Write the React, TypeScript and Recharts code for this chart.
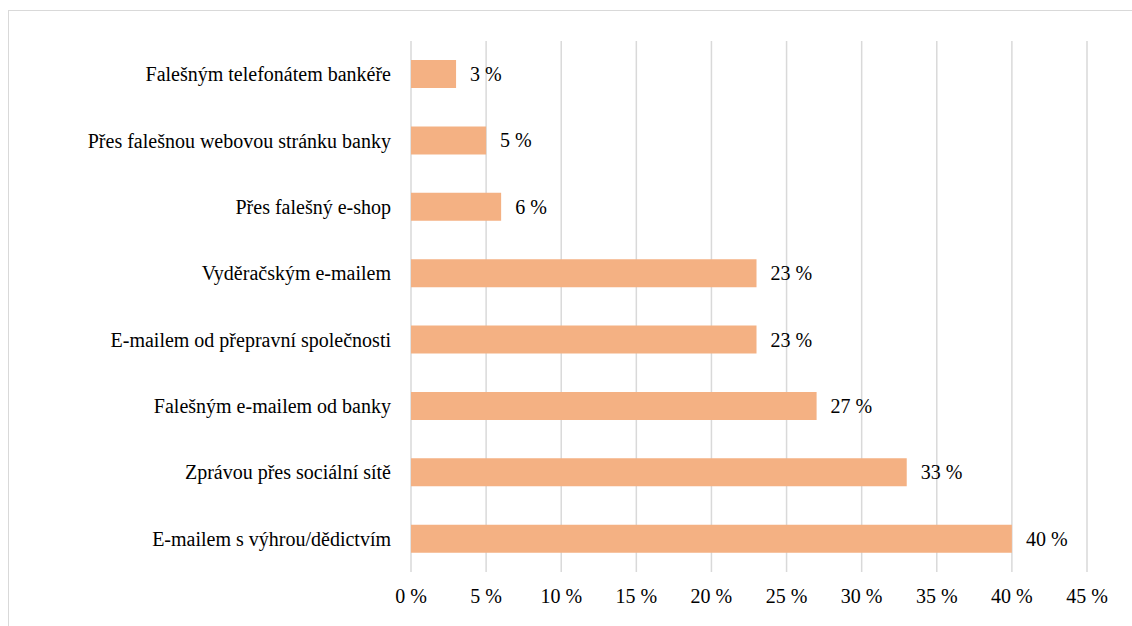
import React from "react";
import { BarChart, Bar, XAxis, YAxis, CartesianGrid, LabelList } from "recharts";

const categories = [
  "Falešným telefonátem bankéře",
  "Přes falešnou webovou stránku banky",
  "Přes falešný e-shop",
  "Vyděračským e-mailem",
  "E-mailem od přepravní společnosti",
  "Falešným e-mailem od banky",
  "Zprávou přes sociální sítě",
  "E-mailem s výhrou/dědictvím",
];
const values = [3, 5, 6, 23, 23, 27, 33, 40];
const xTicks = [0, 5, 10, 15, 20, 25, 30, 35, 40, 45];

const data = categories.map((name, i) => ({ name, value: values[i] }));

const FONT = "Liberation Serif, Times New Roman, DejaVu Serif, serif";

const YTick = (props: any) => {
  const { x, y, payload } = props;
  return (
    <text x={x} y={y} dy={7} textAnchor="end" fill="#000" fontSize={20} fontFamily={FONT} style={{ fontFamily: FONT }}>
      {payload.value}
    </text>
  );
};

const XTick = (props: any) => {
  const { x, y, payload } = props;
  return (
    <text x={x} y={y} dy={14} textAnchor="middle" fill="#000" fontSize={20} fontFamily={FONT} style={{ fontFamily: FONT }}>
      {`${payload.value} %`}
    </text>
  );
};

const ValueLabel = (props: any) => {
  const { x, y, width, height, value } = props;
  return (
    <text
      x={Number(x) + Number(width) + 14}
      y={Number(y) + Number(height) / 2}
      dy={7}
      textAnchor="start"
      fill="#000"
      fontSize={20}
      fontFamily={FONT}
      style={{ fontFamily: FONT }}
    >
      {`${value} %`}
    </text>
  );
};

export default function App() {
  return (
    <div
      style={{
        position: "absolute",
        left: 8,
        top: 10,
        width: 1140,
        height: 640,
        border: "1px solid #d9d9d9",
        boxSizing: "border-box",
        background: "#fff",
        fontFamily: FONT,
      }}
    >
      <BarChart
        width={1123}
        height={603}
        data={data}
        layout="vertical"
        margin={{ top: 30, right: 45, bottom: 4, left: 0 }}
      >
        <CartesianGrid horizontal={false} stroke="#d9d9d9" strokeWidth={1.5} />
        <XAxis
          type="number"
          domain={[0, 45]}
          ticks={xTicks}
          interval={0}
          axisLine={false}
          tickLine={false}
          tickSize={0}
          tickMargin={17}
          height={38}
          tick={<XTick />}
        />
        <YAxis
          type="category"
          dataKey="name"
          width={402}
          axisLine={false}
          tickLine={false}
          tickSize={0}
          tickMargin={20}
          interval={0}
          tick={<YTick />}
        />
        <Bar dataKey="value" fill="#F4B183" barSize={28} isAnimationActive={false}>
          <LabelList dataKey="value" content={<ValueLabel />} />
        </Bar>
      </BarChart>
    </div>
  );
}
